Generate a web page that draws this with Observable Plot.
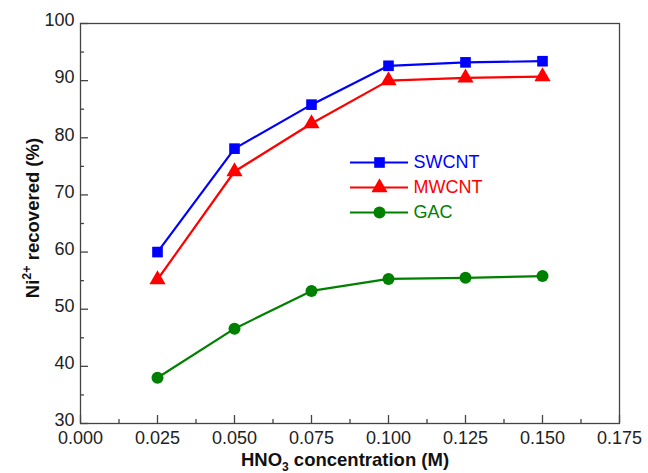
<!DOCTYPE html>
<html><head>
<meta charset="utf-8">
<script src="https://cdn.jsdelivr.net/npm/d3@7"></script>
<script src="https://cdn.jsdelivr.net/npm/@observablehq/plot@0.6"></script>
<style>
body{margin:0;background:#fff;font-family:"Liberation Sans",Arial,sans-serif}
#wrap{position:relative;width:648px;height:473px}
#legend{position:absolute;left:350px;top:151px}
</style>
</head><body><div id="wrap"><div id="chart"></div><div id="legend"></div></div>
<script>
// ---- data ----
const concentrations = [0.025, 0.05, 0.075, 0.1, 0.125, 0.15];
const swcnt = [60.0, 78.1, 85.8, 92.6, 93.2, 93.4];
const mwcnt = [55.2, 74.1, 82.5, 90.0, 90.5, 90.7];
const gac = [38.0, 46.6, 53.2, 55.3, 55.5, 55.8];
const seriesNames = ["SWCNT", "MWCNT", "GAC"];
const seriesColors = ["#0000ff", "#ff0000", "#008000"];
const seriesSymbols = ["square", "triangle", "circle"];
const xTicks = [0, 0.025, 0.05, 0.075, 0.1, 0.125, 0.15, 0.175];
const xMinor = [0.0125, 0.0375, 0.0625, 0.0875, 0.1125, 0.1375, 0.1625];
const yTicks = [30, 40, 50, 60, 70, 80, 90, 100];
const yMinor = [35, 45, 55, 65, 75, 85, 95];

const seriesValues = [swcnt, mwcnt, gac];
const rows = [];
seriesNames.forEach((name, i) => {
  concentrations.forEach((c, j) => rows.push({series: name, x: c, y: seriesValues[i][j]}));
});

const W = 648, H = 473, ML = 80, MR = 29, MT = 23, MB = 50;
const PW = W - ML - MR, PH = H - MT - MB;
const axisColor = "#444";
const font = "'Liberation Sans', Arial, sans-serif";
const chart = Plot.plot({
  width: W,
  height: H,
  marginLeft: ML,
  marginRight: MR,
  marginTop: MT,
  marginBottom: MB,
  style: {fontFamily: font, fontSize: "18px", color: "#222", background: "#fff"},
  x: {domain: [0, 0.175]},
  y: {domain: [30, 100]},
  color: {domain: seriesNames, range: seriesColors},
  symbol: {domain: seriesNames, range: seriesSymbols},
  marks: [
    Plot.tickX(xTicks, {x: d => d, insetTop: PH - 8, stroke: axisColor, strokeWidth: 1.3}),
    Plot.tickX(xMinor, {x: d => d, insetTop: PH - 4, stroke: axisColor, strokeWidth: 1.3}),
    Plot.tickY(yTicks, {y: d => d, insetRight: PW - 8, stroke: axisColor, strokeWidth: 1.3}),
    Plot.tickY(yMinor, {y: d => d, insetRight: PW - 4, stroke: axisColor, strokeWidth: 1.3}),
    Plot.frame({stroke: axisColor, strokeWidth: 1.3}),
    Plot.axisX({ticks: xTicks, tickSize: 0, tickPadding: 8, tickFormat: d3.format(".3f"), label: null, fontSize: 18, fill: "#222"}),
    Plot.axisY({ticks: yTicks, tickSize: 0, tickPadding: 6, dy: -3, label: null, fontSize: 18, fill: "#222"}),
    Plot.line(rows, {x: "x", y: "y", z: "series", stroke: "series", strokeWidth: 2.2}),
    Plot.dot(rows, {x: "x", y: "y", fill: "series", symbol: "series", r: 6})
  ]
});
document.getElementById("chart").append(chart);

// axis titles with sub/superscripts
const svg = d3.select(chart);
const xt = svg.append("text")
  .attr("x", 345).attr("y", 466)
  .attr("text-anchor", "middle")
  .style("font-family", font)
  .style("font-size", "18.5px").style("font-weight", "bold").attr("fill", "#111");
xt.append("tspan").text("HNO");
xt.append("tspan").text("3").attr("dy", 5).style("font-size", "12px");
xt.append("tspan").text(" concentration (M)").attr("dy", -5);

const yt = svg.append("text")
  .attr("transform", "translate(39,218) rotate(-90)")
  .attr("text-anchor", "middle")
  .style("font-family", font)
  .style("font-size", "18.5px").style("font-weight", "bold").attr("fill", "#111");
yt.append("tspan").text("Ni");
yt.append("tspan").text("2+").attr("dy", -8).style("font-size", "12.5px");
yt.append("tspan").text(" recovered (%)").attr("dy", 8);

// legend
const legend = Plot.plot({
  width: 140,
  height: 72,
  margin: 0,
  style: {fontFamily: font, fontSize: "18px", background: "transparent", overflow: "visible"},
  x: {domain: [0, 1], range: [0, 58], axis: null},
  y: {type: "point", domain: seriesNames, range: [10, 61], padding: 0, axis: null},
  color: {domain: seriesNames, range: seriesColors},
  symbol: {domain: seriesNames, range: seriesSymbols},
  marks: [
    Plot.ruleY(seriesNames, {y: d => d, x1: 0, x2: 1, stroke: d => d, strokeWidth: 2.2}),
    Plot.dot(seriesNames, {y: d => d, x: 0.5, fill: d => d, symbol: d => d, r: 6}),
    Plot.text(seriesNames, {y: d => d, x: 1, text: d => d, fill: d => d, textAnchor: "start", dx: 5, fontSize: 18})
  ]
});
document.getElementById("legend").append(legend);
</script>
</body></html>
